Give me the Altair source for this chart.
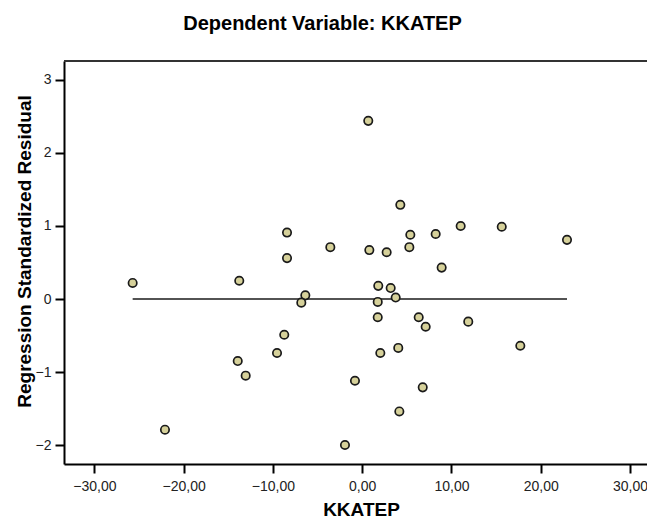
import altair as alt
import pandas as pd

# Predicted-value axis (KKATEP) and standardized residuals
kkatep = [0.68, 4.27, 5.39, 8.23, 11.03, 15.63, 22.94, 0.80, 2.74, 5.28,
          -8.42, -3.57, -8.42, -25.71, -13.77, -6.37, -6.82, -8.73, -9.54, -13.94,
          -13.05, -0.81, -22.09, -1.93, 8.90, 1.80, 3.19, 3.75, 1.74, 1.74,
          6.33, 7.11, 11.88, 17.71, 4.04, 2.03, 6.78, 4.16]
residual = [2.44, 1.29, 0.88, 0.89, 1.00, 0.99, 0.81, 0.67, 0.64, 0.71,
            0.91, 0.71, 0.56, 0.22, 0.25, 0.05, -0.05, -0.49, -0.74, -0.85,
            -1.05, -1.12, -1.79, -2.00, 0.43, 0.18, 0.15, 0.02, -0.04, -0.25,
            -0.25, -0.38, -0.31, -0.64, -0.67, -0.74, -1.21, -1.54]
x_ticks = [-30, -20, -10, 0, 10, 20, 30]
y_ticks = [-2, -1, 0, 1, 2, 3]

pts = pd.DataFrame({"KKATEP": kkatep, "Residual": residual})
fit = pd.DataFrame({"KKATEP": [min(kkatep), max(kkatep)], "Residual": [0.0, 0.0]})

W, H = 583, 403
FONT = "Liberation Sans"

xscale = alt.Scale(domain=[-33.4, 31.9], nice=False, zero=False)
yscale = alt.Scale(domain=[-2.26, 3.26], nice=False, zero=False)

xaxis = alt.Axis(
    values=x_ticks,
    labelExpr="replace(format(datum.value, '.2f'), '.', ',')",
    title="KKATEP", titleX=297, titleY=51, titleBaseline="alphabetic",
    titleAlign="center", labelPadding=6,
    grid=False, labelFlush=False, labelOverlap=False,
)
yaxis = alt.Axis(
    values=y_ticks, format="d",
    title="Regression Standardized Residual",
    titleX=-40, titleY=190, titleAngle=270, titleBaseline="middle",
    titleAlign="center", labelPadding=4,
    grid=False,
)

points = alt.Chart(pts).mark_point(
    shape="circle", filled=True, size=70, fill="#d6d19a",
    stroke="#1a1a1a", strokeWidth=1.7, opacity=1,
).encode(
    x=alt.X("KKATEP:Q", scale=xscale, axis=xaxis),
    y=alt.Y("Residual:Q", scale=yscale, axis=yaxis),
)

line = alt.Chart(fit).mark_line(color="#1a1a1a", strokeWidth=1.6).encode(
    x=alt.X("KKATEP:Q", scale=xscale),
    y=alt.Y("Residual:Q", scale=yscale),
)

top_border = alt.Chart(fit).mark_rule(color="#333333", strokeWidth=2).encode(
    x=alt.value(0), x2=alt.value(W), y=alt.value(0)
)

chart = alt.layer(line, points, top_border).properties(
    width=W, height=H,
    background="white",
    title=alt.TitleParams(
        "Dependent Variable: KKATEP", font=FONT, fontSize=20, fontWeight="bold",
        color="#000000", anchor="middle", frame="group", dx=-33, offset=10,
        baseline="alphabetic",
    ),
    autosize=alt.AutoSizeParams(type="none"),
    padding={"left": 64, "top": 61, "right": 0, "bottom": 55},
).configure_view(stroke=None).configure_axis(
    labelFont=FONT, labelFontSize=14, labelColor="#222222",
    titleFont=FONT, titleFontSize=19, titleFontWeight="bold", titleColor="#000000",
    domainColor="#000000", domainWidth=2, tickColor="#000000", tickWidth=2,
    tickSize=9,
)

chart.save("out.html", embed_options={"renderer": "svg", "actions": False})
